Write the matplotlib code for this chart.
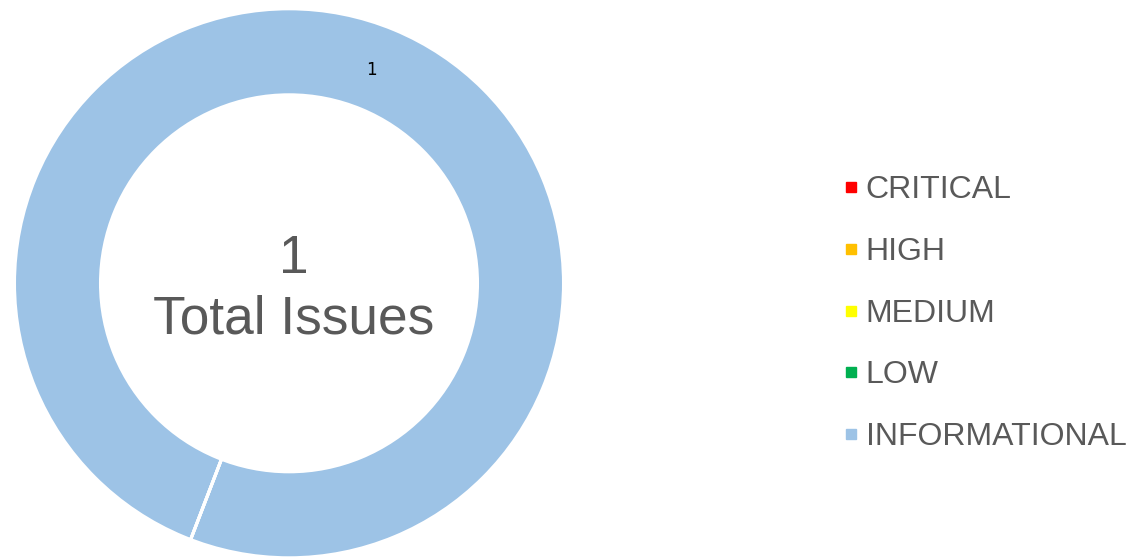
import matplotlib
matplotlib.use("Agg")
import matplotlib.pyplot as plt
from matplotlib.lines import Line2D
import numpy as np

categories = ["CRITICAL", "HIGH", "MEDIUM", "LOW", "INFORMATIONAL"]
counts = [0, 0, 0, 0, 1]
colors = ["#FF0000", "#FFC000", "#FFFF00", "#00B050", "#9DC3E6"]
total = sum(counts)

W, H = 1133, 559
plt.rcParams['font.family'] = ['Liberation Sans', 'DejaVu Sans']
fig = plt.figure(figsize=(W / 100, H / 100), dpi=100)
ax = fig.add_axes([0, 0, 1, 1])
ax.set_xlim(0, W)
ax.set_ylim(0, H)
ax.set_aspect('equal')
ax.axis('off')

cx, cy = 289, H - 283.3
R = 274.5
ring = 86
wedges, _ = ax.pie(counts, colors=colors, startangle=249, counterclock=False,
                   radius=R, center=(cx, cy), frame=True,
                   wedgeprops=dict(width=ring, edgecolor='white', linewidth=2.2))
for w, v in zip(wedges, counts):
    if v == 0:
        w.set_zorder(5)
ax.set_xlim(0, W)
ax.set_ylim(0, H)
ax.axis('off')

# data labels for non-zero slices
for w, v in zip(wedges, counts):
    if v > 0:
        mid = np.deg2rad((w.theta1 + w.theta2) / 2)
        rr = 229
        ax.text(cx + rr * np.cos(mid), cy + rr * np.sin(mid), str(v),
                ha='center', va='center', fontsize=12, color='black',
                family=['DejaVu Sans'])

ax.text(cx + 4.5, H - 259, str(total), ha='center', va='center', fontsize=38.3, color='#595959')
ax.text(cx + 5, H - 320, "Total Issues", ha='center', va='center', fontsize=38.3, color='#595959')

handles = [Line2D([], [], linestyle='none', marker='s', markersize=6.5,
                  markerfacecolor=c, markeredgecolor=c) for c in colors]
leg = ax.legend(handles, categories, loc='upper left',
                bbox_to_anchor=(845 / W, 1 - 175.5 / H), frameon=False,
                fontsize=23, labelcolor='#595959', handlelength=0.35,
                handletextpad=0.3, labelspacing=0.99, borderpad=0, borderaxespad=0)

fig.savefig("out.png", dpi=100, facecolor='white')
